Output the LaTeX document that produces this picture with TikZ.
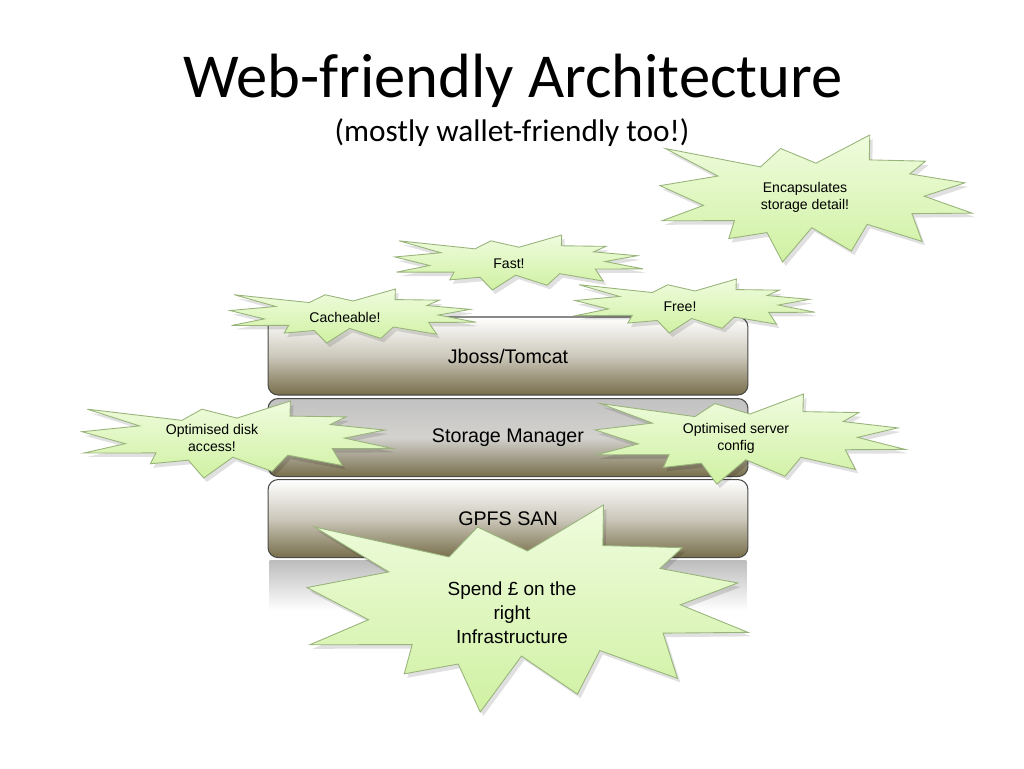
\documentclass[tikz,border=0pt]{standalone}
\usepackage{fontspec}
\setmainfont{Liberation Sans}
\newfontfamily\slidefont{Carlito}
\usepackage{tikz}
\usetikzlibrary{positioning}
\definecolor{layerolive}{HTML}{786E4B}
\definecolor{layeredge}{HTML}{4A4A48}
\definecolor{burstlight}{HTML}{EFFCDE}
\definecolor{burstdark}{HTML}{D0F1A2}
\definecolor{burstedge}{HTML}{98B47A}

% explosion outline in a unit box, y growing downwards
\newcommand{\explosion}{
	(0.5000,0.2222) -- (0.6723,0.0000) -- (0.6708,0.1958) -- (0.8509,0.2063)
	-- (0.8005,0.3064) -- (0.9767,0.3767) -- (0.8466,0.4820) -- (1.0000,0.6153)
	-- (0.8075,0.6190) -- (0.8400,0.8377) -- (0.6640,0.7032) -- (0.6133,0.9138)
	-- (0.4864,0.7298) -- (0.3928,1.0000) -- (0.3429,0.7682) -- (0.2205,0.8156)
	-- (0.2386,0.6742) -- (0.0063,0.6753) -- (0.1395,0.5541) -- (0.0000,0.3988)
	-- (0.1856,0.3231) -- (0.0171,0.1063) -- (0.3223,0.2511) -- (0.3867,0.1063)
	-- cycle}

\tikzset{
	layer/.style={
		draw=layeredge,
		line width=0.6pt,
		rounded corners=0.2cm,
		minimum width=9.6cm,
		minimum height=1.56cm,
		top color=white,
		bottom color=layerolive,
		middle color=layerolive!38,
		font=\fontsize{11.2}{13}\selectfont
	},
	layer shadowed/.style={
		top color=black!24,
		bottom color=layerolive,
		middle color=layerolive!45!black!22
	},
	burst/.style={
		draw=burstedge,
		line width=0.5pt,
		top color=burstlight,
		bottom color=burstdark
	},
	burst shadow/.style={
		fill=black,
		opacity=0.12
	},
	burst text/.style={
		align=center,
		inner sep=0pt,
		font=\fontsize{8}{9.6}\selectfont
	}
}

\begin{document}
\begin{tikzpicture}[x=0.02cm, y=-0.02cm]
	\useasboundingbox (0,0) rectangle (1024,768);
	
	% title
	\node[anchor=base, font=\slidefont\fontsize{35.6}{40}\selectfont]
		(title) at (513,97) {Web-friendly Architecture};
	\node[anchor=base, font=\slidefont\fontsize{17.8}{20}\selectfont]
		(subtitle) at (512,141) {(mostly wallet-friendly too!)};
	
	% layer stack
	\node[layer] (jboss) at (508,356) {Jboss/Tomcat};
	\node[layer, layer shadowed, below=0.05cm of jboss] (storage)
		{Storage Manager};
	\node[layer, below=0.04cm of storage] (gpfs) {GPFS SAN};
	
	\shade[top color=black!26, bottom color=white]
		([xshift=0.04cm, yshift=-0.05cm]gpfs.south west) rectangle
		([xshift=-0.04cm, yshift=-1.05cm]gpfs.south east);
	
	% bursts: left, top, width, height
	\foreach \bx/\by/\bw/\bh in {
		660/135/312/127, 395/235/248/55, 575/279/240/54,
		230/289/246/54, 82/401/310/77, 595/394/310/90,
		307/505/441/207}{
		\fill[burst shadow, shift={(\bx+3,\by+4)}, xscale=\bw, yscale=\bh]
			\explosion;
		\draw[burst, shift={(\bx,\by)}, xscale=\bw, yscale=\bh]
			\explosion;
	}
	
	\node[burst text] (encaps) at (805,197)
		{Encapsulates\\storage detail!};
	\node[burst text] (fast) at (509,264) {Fast!};
	\node[burst text] (free) at (680,307) {Free!};
	\node[burst text] (cache) at (345,317) {Cacheable!};
	\node[burst text] (disk) at (212,438)
		{Optimised disk\\access!};
	\node[burst text] (server) at (736,438)
		{Optimised server\\config};
	\node[burst text, font=\fontsize{10.8}{13.6}\selectfont] (spend)
		at (512,613) {Spend \pounds{} on the\\right\\Infrastructure};
\end{tikzpicture}
\end{document}
